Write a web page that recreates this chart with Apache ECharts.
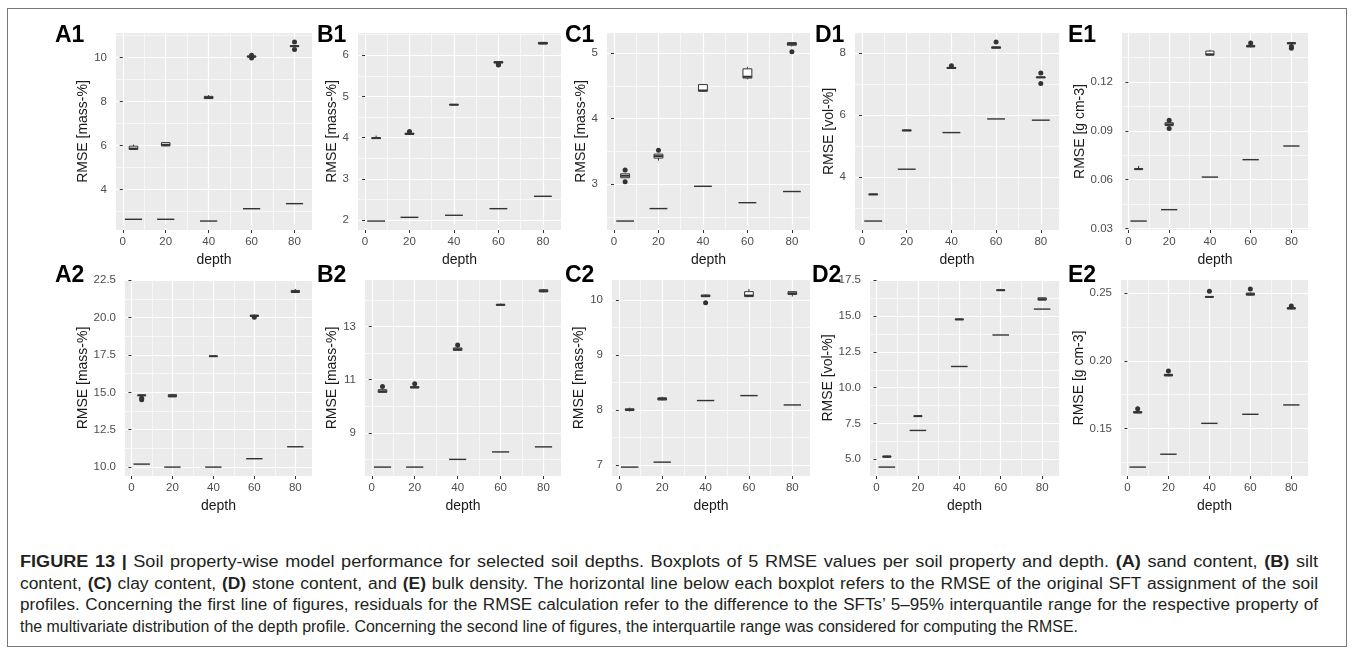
<!DOCTYPE html>
<html><head><meta charset="utf-8">
<script src="https://cdn.jsdelivr.net/npm/echarts@6/dist/echarts.min.js"></script>
<style>
html,body{margin:0;padding:0;background:#fff;}
#frame{position:absolute;left:7px;top:8px;width:1340px;height:639px;border:1px solid #777;box-sizing:border-box;}
#chart{position:absolute;left:0;top:0;width:1355px;height:540px;}
#caption{position:absolute;left:20px;top:551px;font-family:'Liberation Sans',Arial,sans-serif;color:#231f20;font-size:16px;}
.cl{white-space:nowrap;height:21.7px;line-height:21.7px;transform-origin:0 0;}
.cl b{font-weight:bold;}
</style></head>
<body>
<div id="frame"></div>
<div id="chart"></div>
<div id="caption"></div>
<script>
// ---------------- DATA ----------------
const depths = [5, 20, 40, 60, 80];
const xTicks = [0, 20, 40, 60, 80];

// box stats per depth: [lower whisker, Q1, median, Q3, upper whisker]
const A1_box = [[5.80,5.82,5.86,5.97,6.04],[5.96,5.98,6.03,6.13,6.16],[8.11,8.13,8.17,8.23,8.29],[10.00,10.01,10.04,10.06,10.08],[10.48,10.49,10.51,10.53,10.54]];
const A1_out = [[60,9.97],[60,10.10],[80,10.36],[80,10.70]];
const A1_ref = [2.65,2.65,2.57,3.13,3.36];
const A1_ticks = ['4','6','8','10'];

const B1_box = [[3.97,3.98,3.99,4.00,4.05],[4.07,4.08,4.09,4.11,4.12],[4.79,4.795,4.80,4.805,4.81],[5.80,5.81,5.83,5.84,5.85],[6.26,6.27,6.29,6.31,6.32]];
const B1_out = [[20,4.15],[60,5.76],[60,5.78]];
const B1_ref = [1.98,2.07,2.12,2.28,2.58];
const B1_ticks = ['2','3','4','5','6'];

const C1_box = [[3.10,3.10,3.13,3.16,3.16],[3.36,3.40,3.43,3.46,3.47],[4.41,4.42,4.43,4.52,4.53],[4.60,4.62,4.64,4.76,4.79],[5.10,5.12,5.14,5.16,5.17]];
const C1_out = [[5,3.04],[5,3.22],[20,3.52],[80,5.02]];
const C1_ref = [2.44,2.63,2.97,2.72,2.89];
const C1_ticks = ['3','4','5'];

const D1_box = [[3.43,3.435,3.44,3.445,3.45],[5.48,5.49,5.50,5.51,5.52],[7.48,7.50,7.51,7.53,7.56],[8.13,8.15,8.17,8.19,8.21],[7.19,7.20,7.21,7.22,7.23]];
const D1_out = [[40,7.58],[60,8.35],[80,7.01],[80,7.35]];
const D1_ref = [2.58,4.25,5.43,5.87,5.83];
const D1_ticks = ['4','6','8'];

const E1_box = [[0.0660,0.0663,0.0665,0.0668,0.0685],[0.0925,0.0932,0.0940,0.0950,0.0956],[0.1362,0.1365,0.1370,0.1390,0.1398],[0.1413,0.1416,0.1420,0.1425,0.1432],[0.1432,0.1435,0.1438,0.1442,0.1446]];
const E1_out = [[20,0.0915],[20,0.0965],[60,0.1440],[80,0.1408],[80,0.1418]];
const E1_ref = [0.0346,0.0416,0.0616,0.0723,0.0807];
const E1_ticks = ['0.03','0.06','0.09','0.12'];

const A2_box = [[14.76,14.78,14.80,14.82,14.84],[14.68,14.70,14.75,14.85,14.90],[17.40,17.41,17.42,17.43,17.44],[20.06,20.08,20.12,20.16,20.20],[21.64,21.68,21.74,21.82,21.92]];
const A2_out = [[5,14.50],[5,14.60],[60,20.02]];
const A2_ref = [10.20,10.00,10.00,10.56,11.36];
const A2_ticks = ['10.0','12.5','15.0','17.5','20.0','22.5'];

const B2_box = [[10.50,10.52,10.56,10.62,10.64],[10.68,10.69,10.71,10.73,10.75],[12.08,12.10,12.14,12.19,12.22],[13.79,13.80,13.81,13.83,13.86],[14.28,14.30,14.33,14.38,14.41]];
const B2_out = [[5,10.74],[20,10.84],[40,12.30]];
const B2_ref = [7.71,7.71,8.00,8.28,8.47];
const B2_ticks = ['9','11','13'];

const C2_box = [[7.97,7.99,8.00,8.02,8.04],[8.17,8.18,8.20,8.22,8.24],[10.05,10.06,10.07,10.09,10.10],[10.05,10.06,10.08,10.15,10.20],[10.06,10.10,10.12,10.15,10.16]];
const C2_out = [[40,9.95]];
const C2_ref = [6.96,7.05,8.17,8.26,8.09];
const C2_ticks = ['7','8','9','10'];

const D2_box = [[5.12,5.15,5.18,5.22,5.26],[7.99,8.00,8.01,8.03,8.04],[14.74,14.75,14.77,14.79,14.82],[16.78,16.79,16.81,16.83,16.90],[16.10,16.12,16.18,16.28,16.32]];
const D2_out = [];
const D2_ref = [4.45,7.01,11.48,13.68,15.49];
const D2_ticks = ['5.0','7.5','10.0','12.5','15.0','17.5'];

const E2_box = [[0.1612,0.1615,0.1620,0.1625,0.1630],[0.1885,0.1888,0.1895,0.1900,0.1905],[0.2468,0.2470,0.2472,0.2474,0.2476],[0.2478,0.2485,0.2492,0.2500,0.2506],[0.2380,0.2383,0.2388,0.2392,0.2396]];
const E2_out = [[5,0.1645],[20,0.1925],[40,0.2513],[60,0.2531],[80,0.2405]];
const E2_ref = [0.1215,0.1310,0.1538,0.1605,0.1674];
const E2_ticks = ['0.15','0.20','0.25'];

const unitMass = 'RMSE [mass-%]', unitVol = 'RMSE [vol-%]', unitBd = 'RMSE [g cm-3]';
const panels = [
  {id:'A1', box:A1_box, out:A1_out, ref:A1_ref, ticks:A1_ticks, title:unitMass},
  {id:'B1', box:B1_box, out:B1_out, ref:B1_ref, ticks:B1_ticks, title:unitMass},
  {id:'C1', box:C1_box, out:C1_out, ref:C1_ref, ticks:C1_ticks, title:unitMass},
  {id:'D1', box:D1_box, out:D1_out, ref:D1_ref, ticks:D1_ticks, title:unitVol},
  {id:'E1', box:E1_box, out:E1_out, ref:E1_ref, ticks:E1_ticks, title:unitBd},
  {id:'A2', box:A2_box, out:A2_out, ref:A2_ref, ticks:A2_ticks, title:unitMass},
  {id:'B2', box:B2_box, out:B2_out, ref:B2_ref, ticks:B2_ticks, title:unitMass},
  {id:'C2', box:C2_box, out:C2_out, ref:C2_ref, ticks:C2_ticks, title:unitMass},
  {id:'D2', box:D2_box, out:D2_out, ref:D2_ref, ticks:D2_ticks, title:unitVol},
  {id:'E2', box:E2_box, out:E2_out, ref:E2_ref, ticks:E2_ticks, title:unitBd}
];

// ---------------- LAYOUT / STYLE ----------------
const layout = {
  A1:{left:116, top:33, width:196, height:197, titleX:86,   tagX:55,   tagY:36},
  B1:{left:358, top:33, width:203, height:197, titleX:333,  tagX:317,  tagY:36},
  C1:{left:607, top:33, width:203, height:197, titleX:583,  tagX:565,  tagY:36},
  D1:{left:855, top:33, width:204, height:197, titleX:833,  tagX:815,  tagY:36},
  E1:{left:1122,top:33, width:186, height:197, titleX:1082, tagX:1068, tagY:36},
  A2:{left:125, top:280, width:187, height:196, titleX:86,   tagX:55,   tagY:276},
  B2:{left:365, top:280, width:196, height:196, titleX:335,  tagX:317,  tagY:276},
  C2:{left:612, top:280, width:198, height:196, titleX:585,  tagX:565,  tagY:276},
  D2:{left:870, top:280, width:189, height:196, titleX:833,  tagX:812,  tagY:276},
  E2:{left:1121,top:280, width:187, height:196, titleX:1082, tagX:1068, tagY:276}
};
const FONT = "'Liberation Sans', Arial, Helvetica, sans-serif";
const BOX_W = 4;   // boxplot width in depth units
const REF_W = 8;   // reference segment width in depth units
const INK = '#333333';

function renderBox(params, api){
  const x = api.value(0);
  const lo = api.coord([x, api.value(1)]);
  const q1 = api.coord([x, api.value(2)]);
  const md = api.coord([x, api.value(3)]);
  const q3 = api.coord([x, api.value(4)]);
  const hi = api.coord([x, api.value(5)]);
  const hw = api.size([BOX_W, 0])[0] / 2;
  const c = lo[0];
  return {type:'group', children:[
    {type:'line', shape:{x1:c, y1:lo[1], x2:c, y2:q1[1]}, style:{stroke:INK, lineWidth:1}},
    {type:'line', shape:{x1:c, y1:q3[1], x2:c, y2:hi[1]}, style:{stroke:INK, lineWidth:1}},
    {type:'rect', shape:{x:c-hw, y:q3[1], width:2*hw, height:Math.max(q1[1]-q3[1],0.5)}, style:{fill:'#fff', stroke:INK, lineWidth:1}},
    {type:'line', shape:{x1:c-hw, y1:md[1], x2:c+hw, y2:md[1]}, style:{stroke:INK, lineWidth:2}}
  ]};
}
function renderRef(params, api){
  const d = api.value(0), v = api.value(1);
  const a = api.coord([d - REF_W/2, v]);
  const b = api.coord([d + REF_W/2, v]);
  return {type:'line', shape:{x1:a[0], y1:a[1], x2:b[0], y2:b[1]}, style:{stroke:INK, lineWidth:1.4}};
}
function minorsOf(major, lo, hi){
  const step = major[1]-major[0], res = [];
  for (let k=-1; k<major.length; k++){
    const m = major[0] + (k+0.5)*step;
    if (m > lo && m < hi) res.push(+m.toFixed(6));
  }
  return res;
}

const grids = [], xAxes = [], yAxes = [], series = [], graphics = [];
const xLo = depths[0] - REF_W/2, xHi = depths[depths.length-1] + REF_W/2;
const xMin = xLo - 0.05*(xHi-xLo), xMax = xHi + 0.05*(xHi-xLo);
const xMinor = minorsOf(xTicks, xMin, xMax);

panels.forEach((p, i) => {
  const L = layout[p.id];
  grids.push({left:L.left, top:L.top, width:L.width, height:L.height, show:true, backgroundColor:'#EBEBEB', borderWidth:0});
  const vals = [].concat(...p.box, p.out.map(o=>o[1]), p.ref);
  const lo = Math.min(...vals), hi = Math.max(...vals), pad = (hi-lo)*0.05;
  const yMin = lo - pad, yMax = hi + pad;
  const yTickNums = p.ticks.map(Number);
  const yMinor = minorsOf(yTickNums, yMin, yMax);
  const dec = (p.ticks[0].split('.')[1] || '').length;

  xAxes.push({gridIndex:i, type:'value', min:xMin, max:xMax, position:'bottom',
    axisLine:{show:false},
    axisTick:{show:true, length:3, lineStyle:{color:INK, width:1}, customValues:xTicks},
    axisLabel:{customValues:xTicks, color:'#4d4d4d', fontSize:11.5, margin:6, fontFamily:FONT},
    splitLine:{show:true, lineStyle:{color:'#ffffff', width:1.2}},
    name:'depth', nameLocation:'middle', nameGap:23,
    nameTextStyle:{color:'#1a1a1a', fontSize:14, fontFamily:FONT}});
  xAxes.push({gridIndex:i, type:'value', min:xMin, max:xMax, position:'top',
    axisLine:{show:false}, axisTick:{show:false, customValues:xMinor}, axisLabel:{show:false},
    splitLine:{show:true, lineStyle:{color:'#ffffff', width:0.6}}});
  yAxes.push({gridIndex:i, type:'value', min:yMin, max:yMax, position:'left',
    axisLine:{show:false},
    axisTick:{show:true, length:3, lineStyle:{color:INK, width:1}, customValues:yTickNums},
    axisLabel:{customValues:yTickNums, color:'#4d4d4d', fontSize:11.5, margin:9, fontFamily:FONT,
      formatter:(v)=>Number(v).toFixed(dec)},
    splitLine:{show:true, lineStyle:{color:'#ffffff', width:1.2}},
    name:p.title, nameLocation:'middle', nameRotate:90, nameGap:(L.left - L.titleX - 7),
    nameTextStyle:{color:'#1a1a1a', fontSize:14, fontFamily:FONT}});
  yAxes.push({gridIndex:i, type:'value', min:yMin, max:yMax, position:'right',
    axisLine:{show:false}, axisTick:{show:false, customValues:yMinor}, axisLabel:{show:false},
    splitLine:{show:true, lineStyle:{color:'#ffffff', width:0.6}}});

  series.push({type:'custom', name:p.id+' ref', xAxisIndex:2*i, yAxisIndex:2*i, renderItem:renderRef,
    data: depths.map((d,j)=>[d, p.ref[j]]), z:3, silent:true});
  series.push({type:'custom', name:p.id+' box', xAxisIndex:2*i, yAxisIndex:2*i, renderItem:renderBox,
    data: depths.map((d,j)=>[d].concat(p.box[j])), z:4, silent:true});
  series.push({type:'scatter', name:p.id+' outliers', xAxisIndex:2*i, yAxisIndex:2*i,
    data:p.out, symbolSize:5, itemStyle:{color:INK, opacity:1}, z:5, silent:true});

  graphics.push({type:'text', x:L.tagX, y:L.tagY,
    style:{text:p.id, fill:'#000', font:"bold 23px " + FONT, verticalAlign:'middle', align:'left'}});
});

const chart = echarts.init(document.getElementById('chart'), null, {renderer:'canvas'});
chart.setOption({
  animation:false,
  grid:grids, xAxis:xAxes, yAxis:yAxes, series:series, graphic:graphics
});

// ---------------- CAPTION ----------------
const capLines = [
  '<b>FIGURE 13 |</b> Soil property-wise model performance for selected soil depths. Boxplots of 5 RMSE values per soil property and depth. <b>(A)</b> sand content, <b>(B)</b> silt',
  'content, <b>(C)</b> clay content, <b>(D)</b> stone content, and <b>(E)</b> bulk density. The horizontal line below each boxplot refers to the RMSE of the original SFT assignment of the soil',
  'profiles. Concerning the first line of figures, residuals for the RMSE calculation refer to the difference to the SFTs\u2019 5\u201395% interquantile range for the respective property of',
  'the multivariate distribution of the depth profile. Concerning the second line of figures, the interquartile range was considered for computing the RMSE.'
];
const CAP_W = 1298, LAST_W = 1058, MIX = 0.8;
const cap = document.getElementById('caption');
function natWidth(html){
  const sp = document.createElement('span');
  sp.style.whiteSpace = 'nowrap';
  sp.innerHTML = html;
  cap.appendChild(sp);
  const w = sp.getBoundingClientRect().width;
  cap.removeChild(sp);
  return w;
}
const sLast = LAST_W / natWidth(capLines[3]);
capLines.forEach((t, k) => {
  const d = document.createElement('div');
  d.className = 'cl';
  d.innerHTML = t;
  let s = sLast;
  if (k < 3) {
    const sFull = CAP_W / natWidth(t);
    s = sLast + MIX * (sFull - sLast);
    d.style.textAlign = 'justify';
    d.style.textAlignLast = 'justify';
  }
  d.style.width = (CAP_W / s) + 'px';
  d.style.transform = 'scaleX(' + s + ')';
  cap.appendChild(d);
});
</script>
</body></html>
